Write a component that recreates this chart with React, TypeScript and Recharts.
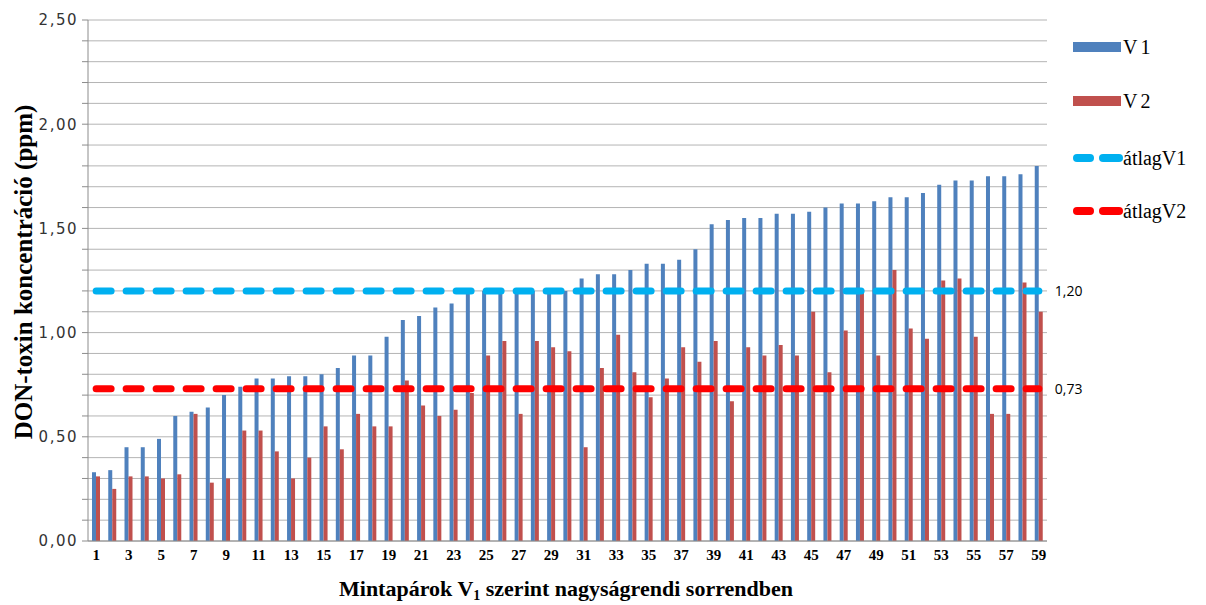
import React from 'react';
import { ComposedChart, Bar, Line, XAxis, YAxis, CartesianGrid, Legend, LabelList, Label } from 'recharts';

const categories = ['1','2','3','4','5','6','7','8','9','10','11','12','13','14','15','16','17','18','19','20','21','22','23','24','25','26','27','28','29','30','31','32','33','34','35','36','37','38','39','40','41','42','43','44','45','46','47','48','49','50','51','52','53','54','55','56','57','58','59'];

const v1Values = [0.33, 0.34, 0.45, 0.45, 0.49, 0.60, 0.62, 0.64, 0.70, 0.74,
  0.78, 0.78, 0.79, 0.79, 0.80, 0.83, 0.89, 0.89, 0.98, 1.06,
  1.08, 1.12, 1.14, 1.20, 1.20, 1.20, 1.20, 1.20, 1.20, 1.20,
  1.26, 1.28, 1.28, 1.30, 1.33, 1.33, 1.35, 1.40, 1.52, 1.54,
  1.55, 1.55, 1.57, 1.57, 1.58, 1.60, 1.62, 1.62, 1.63, 1.65,
  1.65, 1.67, 1.71, 1.73, 1.73, 1.75, 1.75, 1.76, 1.80];

const v2Values = [0.31, 0.25, 0.31, 0.31, 0.30, 0.32, 0.61, 0.28, 0.30, 0.53,
  0.53, 0.43, 0.30, 0.40, 0.55, 0.44, 0.61, 0.55, 0.55, 0.77,
  0.65, 0.60, 0.63, 0.71, 0.89, 0.96, 0.61, 0.96, 0.93, 0.91,
  0.45, 0.83, 0.99, 0.81, 0.69, 0.78, 0.93, 0.86, 0.96, 0.67,
  0.93, 0.89, 0.94, 0.89, 1.10, 0.81, 1.01, 1.19, 0.89, 1.30,
  1.02, 0.97, 1.25, 1.26, 0.98, 0.61, 0.61, 1.24, 1.10];

const avgV1 = 1.20;
const avgV2 = 0.73;

const yTicks = [0, 0.1, 0.2, 0.3, 0.4, 0.5, 0.6, 0.7, 0.8, 0.9, 1.0, 1.1, 1.2, 1.3, 1.4, 1.5, 1.6, 1.7, 1.8, 1.9, 2.0, 2.1, 2.2, 2.3, 2.4, 2.5];
const yLabeled = [0, 0.5, 1.0, 1.5, 2.0, 2.5];

const seriesNames = ['V1', 'V2', 'átlagV1', 'átlagV2'];
const colors = { V1: '#4F81BD', V2: '#C0504D', avg1: '#00B0F0', avg2: '#FF0000' };

const data = categories.map((c, i) => ({
  cat: c,
  V1: v1Values[i],
  V2: v2Values[i],
  avgV1: avgV1,
  avgV2: avgV2,
}));

const fmt = (v: number) => v.toFixed(2).replace('.', ',');

const yTickFormatter = (v: number) =>
  yLabeled.some((t) => Math.abs(t - v) < 1e-6) ? fmt(v) : '';

const lastIndex = categories.length - 1;

const EndLabel = (props: any) => {
  const { x, y, index, value } = props;
  if (index !== lastIndex) return null;
  return (
    <text x={x + 16} y={y + 5} fontFamily="'Open Sans', 'DejaVu Sans', sans-serif" fontSize={14} fill="#000">
      {fmt(value)}
    </text>
  );
};

const renderLegend = () => {
  const serif = "'Liberation Serif', 'Times New Roman', serif";
  const rows = [
    { name: seriesNames[0], y: 22, kind: 'rect', color: colors.V1 },
    { name: seriesNames[1], y: 76, kind: 'rect', color: colors.V2 },
    { name: seriesNames[2], y: 133, kind: 'dash', color: colors.avg1 },
    { name: seriesNames[3], y: 186, kind: 'dash', color: colors.avg2 },
  ];
  return (
    <svg width={140} height={210}>
      {rows.map((r) => (
        <g key={r.name}>
          {r.kind === 'rect' ? (
            <rect x={7} y={r.y - 5} width={48} height={10} fill={r.color} />
          ) : (
            <g stroke={r.color} strokeWidth={8} strokeLinecap="round">
              <line x1={11} y1={r.y} x2={24} y2={r.y} />
              <line x1={37} y1={r.y} x2={53} y2={r.y} />
            </g>
          )}
          <text x={57} y={r.y + 7} fontFamily={serif} fontSize={20} fill="#000" letterSpacing={r.kind === 'rect' ? 3 : 0}>
            {r.name}
          </text>
        </g>
      ))}
    </svg>
  );
};

export default function App() {
  const serif = "'Liberation Serif', 'Times New Roman', serif";
  return (
    <div style={{ position: 'absolute', left: 0, top: 0, width: 1206, height: 605, background: '#fff' }}>
      <ComposedChart
        width={1206}
        height={605}
        data={data}
        margin={{ top: 20, right: 159, bottom: 0, left: 0 }}
        barGap={0}
      >
        <CartesianGrid vertical={false} stroke="#B4B4B4" strokeWidth={1} />
        <XAxis
          dataKey="cat"
          interval={1}
          height={64}
          tickLine={false}
          axisLine={{ stroke: '#8C8C8C' }}
          tick={{ fontFamily: serif, fontWeight: 'bold', fontSize: 15, fill: '#000' }}
        >
          <Label
            content={() => (
              <text x={566} y={596} textAnchor="middle" fontFamily={serif} fontWeight="bold" fontSize={22} fill="#000">
                Mintapárok V
                <tspan fontSize={14} dy={4}>1</tspan>
                <tspan dy={-4}> szerint nagyságrendi sorrendben</tspan>
              </text>
            )}
          />
        </XAxis>
        <YAxis
          width={88}
          domain={[0, 2.5]}
          ticks={yTicks}
          interval={0}
          tickFormatter={yTickFormatter}
          tickSize={6}
          tickMargin={4}
          axisLine={{ stroke: '#8C8C8C' }}
          tickLine={{ stroke: '#8C8C8C' }}
          tick={{ fontFamily: "'DejaVu Sans', sans-serif", fontSize: 15, fill: '#333333', letterSpacing: 1.5 }}
        >
          <Label
            content={() => (
              <text
                x={32}
                y={272}
                transform="rotate(-90 32 272)"
                textAnchor="middle"
                fontFamily={serif}
                fontWeight="bold"
                fontSize={25}
                fill="#000"
              >
                DON-toxin koncentráció (ppm)
              </text>
            )}
          />
        </YAxis>
        <Legend
          layout="vertical"
          align="center"
          verticalAlign="middle"
          content={renderLegend}
          wrapperStyle={{ position: 'absolute', left: 1066, top: 25, width: 140, height: 210 }}
        />
        <Bar dataKey="V1" name={seriesNames[0]} fill={colors.V1} barSize={4} isAnimationActive={false} />
        <Bar dataKey="V2" name={seriesNames[1]} fill={colors.V2} barSize={4} isAnimationActive={false} />
        <Line
          dataKey="avgV1"
          name={seriesNames[2]}
          stroke={colors.avg1}
          strokeWidth={7}
          strokeDasharray="15 15"
          strokeLinecap="round"
          dot={false}
          activeDot={false}
          isAnimationActive={false}
        >
          <LabelList dataKey="avgV1" content={EndLabel} />
        </Line>
        <Line
          dataKey="avgV2"
          name={seriesNames[3]}
          stroke={colors.avg2}
          strokeWidth={7}
          strokeDasharray="15 15"
          strokeLinecap="round"
          dot={false}
          activeDot={false}
          isAnimationActive={false}
        >
          <LabelList dataKey="avgV2" content={EndLabel} />
        </Line>
      </ComposedChart>
    </div>
  );
}
